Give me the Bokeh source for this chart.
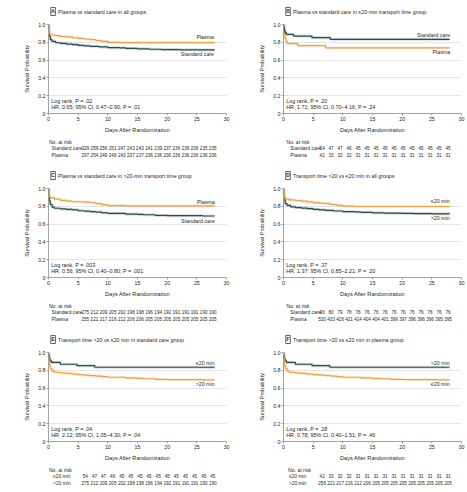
from bokeh.plotting import figure
from bokeh.layouts import column, row
from bokeh.models import Range1d, FixedTicker
from bokeh.core.properties import value
from bokeh.embed import file_html
from bokeh.resources import INLINE

FONT = "Liberation Sans"
ORANGE = "#EFA043"
DARK = "#2F4C4C"
TXT = "#231F20"
AXC = "#8C8C8C"

# ---------------- data ----------------
days_risk = [0, 2, 4, 6, 8, 10, 12, 14, 16, 18, 20, 22, 24, 26, 28]
x_ticks = [0, 5, 10, 15, 20, 25, 30]
y_ticks = [0, 0.2, 0.4, 0.6, 0.8, 1.0]

# Panel A
A_pl_x = [0, 0.05, 0.15, 0.3, 1, 2, 3, 4, 5, 6, 7, 8, 9, 10, 12, 28]
A_pl_y = [1.0, 0.94, 0.90, 0.885, 0.875, 0.865, 0.86, 0.85, 0.843, 0.837, 0.83, 0.82, 0.81, 0.80, 0.797, 0.795]
A_sc_x = [0, 0.05, 0.15, 0.3, 0.6, 1.2, 2, 3, 4, 5, 6, 7, 8.5, 10, 12, 13, 15, 17, 19, 22, 25, 28]
A_sc_y = [1.0, 0.93, 0.87, 0.83, 0.81, 0.795, 0.787, 0.78, 0.775, 0.765, 0.76, 0.755, 0.748, 0.74, 0.737, 0.732, 0.727, 0.722, 0.718, 0.716, 0.714, 0.714]
A_sc_risk = [329, 259, 256, 251, 247, 243, 243, 241, 239, 237, 236, 236, 236, 235, 235]
A_pl_risk = [297, 254, 249, 248, 243, 237, 237, 236, 236, 236, 236, 236, 236, 236, 236]
A_stats = ["Log rank, P = .02", "HR, 0.65; 95% CI, 0.47–0.90; P = .01"]

# Panel B
B_sc_x = [0, 0.05, 0.1, 0.15, 0.2, 0.3, 0.5, 1.7, 4.8, 7.9, 28]
B_sc_y = [1.0, 0.981, 0.963, 0.944, 0.926, 0.907, 0.889, 0.87, 0.852, 0.833, 0.833]
B_pl_x = [0, 0.05, 0.1, 0.2, 0.3, 0.45, 0.6, 2.4, 7.1, 28]
B_pl_y = [1.0, 0.952, 0.905, 0.857, 0.833, 0.81, 0.786, 0.762, 0.738, 0.738]
B_sc_risk = [54, 47, 47, 46, 45, 45, 45, 45, 45, 45, 45, 45, 45, 45, 45]
B_pl_risk = [42, 33, 32, 32, 31, 31, 31, 31, 31, 31, 31, 31, 31, 31, 31]
B_stats = ["Log rank, P = .20", "HR, 1.71; 95% CI, 0.70–4.16; P = .24"]

# Panel C
C_pl_x = [0, 0.05, 0.15, 0.3, 1, 2, 3, 4, 6, 7, 8, 9, 10, 13, 28]
C_pl_y = [1.0, 0.95, 0.91, 0.895, 0.88, 0.867, 0.858, 0.851, 0.847, 0.84, 0.831, 0.818, 0.808, 0.804, 0.804]
C_sc_x = [0, 0.05, 0.15, 0.3, 0.6, 1, 2, 3, 4, 5, 6, 7, 8, 9, 10, 13, 15, 16, 18, 20, 26, 28]
C_sc_y = [1.0, 0.92, 0.86, 0.82, 0.79, 0.778, 0.771, 0.765, 0.76, 0.75, 0.745, 0.74, 0.735, 0.727, 0.72, 0.713, 0.709, 0.705, 0.698, 0.695, 0.691, 0.691]
C_sc_risk = [275, 212, 209, 205, 202, 198, 198, 196, 194, 192, 191, 191, 191, 190, 190]
C_pl_risk = [255, 221, 217, 216, 212, 206, 206, 205, 205, 205, 205, 205, 205, 205, 205]
C_stats = ["Log rank, P = .003", "HR, 0.56; 95% CI, 0.40–0.80; P = .001"]

# Panel D
D_le_x = [0, 0.05, 0.15, 0.3, 1, 2, 3, 4, 5, 6, 7, 8, 9, 10, 12, 28]
D_le_y = [1.0, 0.94, 0.90, 0.88, 0.872, 0.865, 0.858, 0.85, 0.842, 0.836, 0.83, 0.82, 0.81, 0.803, 0.798, 0.796]
D_gt_x = [0, 0.05, 0.15, 0.3, 0.6, 1.2, 2, 3, 4, 5, 6, 7, 8.5, 10, 12, 13, 15, 17, 20, 22, 25, 28]
D_gt_y = [1.0, 0.93, 0.87, 0.83, 0.81, 0.794, 0.786, 0.78, 0.774, 0.765, 0.76, 0.754, 0.747, 0.74, 0.737, 0.732, 0.727, 0.723, 0.72, 0.718, 0.716, 0.715]
D_sc_risk = [96, 80, 79, 78, 76, 76, 76, 76, 76, 76, 76, 76, 76, 76, 76]
D_pl_risk = [530, 433, 426, 421, 414, 404, 404, 401, 399, 397, 396, 396, 396, 395, 395]
D_stats = ["Log rank, P = .37", "HR, 1.37; 95% CI, 0.85–2.21; P = .20"]

# Panel E
E_le_x = [0, 0.05, 0.1, 0.15, 0.2, 0.3, 0.5, 2.0, 4.8, 7.8, 28]
E_le_y = [1.0, 0.981, 0.963, 0.944, 0.926, 0.907, 0.889, 0.868, 0.852, 0.834, 0.834]
E_gt_x = [0, 0.05, 0.15, 0.3, 0.6, 1, 2, 3, 4, 5, 6, 7, 8, 9, 10, 13, 15, 16, 18, 20, 26, 28]
E_gt_y = [1.0, 0.92, 0.86, 0.82, 0.79, 0.778, 0.771, 0.765, 0.758, 0.751, 0.745, 0.74, 0.735, 0.728, 0.722, 0.714, 0.709, 0.705, 0.698, 0.695, 0.692, 0.692]
E_le_risk = [54, 47, 47, 46, 45, 45, 45, 45, 45, 45, 45, 45, 45, 45, 45]
E_gt_risk = [275, 212, 209, 205, 202, 198, 198, 196, 194, 192, 191, 191, 191, 190, 190]
E_stats = ["Log rank, P = .04", "HR, 2.12; 95% CI, 1.05–4.30; P = .04"]

# Panel F
F_gt_x = [0, 0.05, 0.1, 0.15, 0.2, 0.3, 0.5, 2.0, 4.8, 7.8, 28]
F_gt_y = [1.0, 0.981, 0.963, 0.944, 0.926, 0.907, 0.889, 0.868, 0.852, 0.834, 0.834]
F_le_x = [0, 0.05, 0.15, 0.3, 0.6, 1, 2, 3, 4, 5, 6, 7, 8, 9, 10, 13, 15, 16, 18, 20, 26, 28]
F_le_y = [1.0, 0.92, 0.86, 0.82, 0.79, 0.778, 0.771, 0.765, 0.758, 0.751, 0.745, 0.74, 0.735, 0.728, 0.722, 0.714, 0.709, 0.705, 0.698, 0.695, 0.692, 0.692]
F_le_risk = [42, 33, 32, 32, 31, 31, 31, 31, 31, 31, 31, 31, 31, 31, 31]
F_gt_risk = [256, 221, 217, 216, 212, 206, 205, 205, 205, 205, 205, 205, 205, 205, 205]
F_stats = ["Log rank, P = .28", "HR, 0.78; 95% CI, 0.40–1.51; P = .46"]

# ---------------- layout constants ----------------
TH, MT, FH, MB, TBH = 21, 3, 92, 19, 29
LEFT = dict(W=232, BL=48, BR=6, box_x=6, title_x=12.5, indent0=0.5, indent=4)
RIGHT = dict(W=235, BL=51, BR=6, box_x=6, title_x=12.5, indent0=4, indent=9)

specs = [
    dict(letter="A", title="Plasma vs standard care in all groups", geo=LEFT,
         curves=[(A_sc_x, A_sc_y, DARK), (A_pl_x, A_pl_y, ORANGE)],
         labels=[("Plasma", 27.9, 0.855), ("Standard care", 27.9, 0.663)],
         stats=A_stats, rows=[("Standard care", A_sc_risk), ("Plasma", A_pl_risk)]),
    dict(letter="B", title="Plasma vs standard care in ≤20-min transport time group", geo=RIGHT,
         curves=[(B_pl_x, B_pl_y, ORANGE), (B_sc_x, B_sc_y, DARK)],
         labels=[("Standard care", 28.1, 0.887), ("Plasma", 28.1, 0.69)],
         stats=B_stats, rows=[("Standard care", B_sc_risk), ("Plasma", B_pl_risk)]),
    dict(letter="C", title="Plasma vs standard care in >20-min transport time group", geo=LEFT,
         curves=[(C_sc_x, C_sc_y, DARK), (C_pl_x, C_pl_y, ORANGE)],
         labels=[("Plasma", 28.0, 0.848), ("Standard care", 28.0, 0.632)],
         stats=C_stats, rows=[("Standard care", C_sc_risk), ("Plasma", C_pl_risk)]),
    dict(letter="D", title="Transport time >20 vs ≤20 min in all groups", geo=RIGHT,
         curves=[(D_gt_x, D_gt_y, DARK), (D_le_x, D_le_y, ORANGE)],
         labels=[("≤20 min", 28.0, 0.856), (">20 min", 28.0, 0.664)],
         stats=D_stats, rows=[("Standard care", D_sc_risk), ("Plasma", D_pl_risk)]),
    dict(letter="E", title="Transport time >20 vs ≤20 min in standard care group", geo=dict(LEFT, indent=6),
         curves=[(E_le_x, E_le_y, DARK), (E_gt_x, E_gt_y, ORANGE)],
         labels=[("≤20 min", 28.0, 0.88), (">20 min", 28.0, 0.646)],
         stats=E_stats, rows=[("≤20 min", E_le_risk), (">20 min", E_gt_risk)]),
    dict(letter="F", title="Transport time >20 vs ≤20 min in plasma group", geo=dict(RIGHT, indent0=6, indent=7),
         curves=[(F_gt_x, F_gt_y, DARK), (F_le_x, F_le_y, ORANGE)],
         labels=[(">20 min", 28.0, 0.885), ("≤20 min", 28.0, 0.646)],
         stats=F_stats, rows=[("≤20 min", F_le_risk), (">20 min", F_gt_risk)]),
]


def bare_fig(w, h, xr, yr):
    f = figure(width=w, height=h, x_range=xr, y_range=yr,
               x_axis_location=None, y_axis_location=None,
               toolbar_location=None, min_border=0, outline_line_color=None,
               output_backend="svg")
    f.grid.visible = False
    return f


def make_panel(s):
    g = s["geo"]
    W, BL, BR = g["W"], g["BL"], g["BR"]
    FW = W - BL - BR

    # title strip
    t = bare_fig(W, TH, Range1d(0, W), Range1d(0, TH))
    cy = TH - 11
    t.rect(x=[g["box_x"]], y=[cy], width=6, height=8, fill_color=None,
           line_color=TXT, line_width=0.7)
    t.text(x=[g["box_x"]], y=[cy], text=[s["letter"]], text_align="center",
           text_baseline="middle", text_font=value(FONT), text_font_size="4.8px",
           text_font_style="bold", text_color=TXT)
    t.text(x=[g["title_x"]], y=[cy], text=[s["title"]], text_align="left",
           text_baseline="middle", text_font=value(FONT), text_font_size="5.3px",
           text_color=TXT)

    # main KM plot
    m = figure(width=W, height=MT + FH + MB, x_range=Range1d(0, 30), y_range=Range1d(0, 1),
               min_border_left=BL, min_border_right=BR, min_border_top=MT, min_border_bottom=MB,
               toolbar_location=None, outline_line_color=None, output_backend="svg")
    m.xgrid.visible = False
    m.ygrid.grid_line_color = "#DADADA"
    m.ygrid.grid_line_width = 0.7
    m.xaxis.ticker = FixedTicker(ticks=x_ticks)
    m.yaxis.ticker = FixedTicker(ticks=y_ticks)
    m.yaxis.major_label_overrides = {0: "0", 1: "1.0"}
    m.xaxis.axis_label = "Days After Randomization"
    m.yaxis.axis_label = "Survival Probability"
    for ax in (m.xaxis[0], m.yaxis[0]):
        ax.axis_line_color = AXC
        ax.axis_line_width = 0.8
        ax.major_tick_line_color = AXC
        ax.major_tick_line_width = 0.8
        ax.major_tick_in = 0
        ax.major_tick_out = 2
        ax.minor_tick_line_color = None
        ax.major_label_standoff = 1
        ax.major_label_text_font = FONT
        ax.major_label_text_font_size = "5.3px"
        ax.major_label_text_color = TXT
        ax.axis_label_text_font = FONT
        ax.axis_label_text_font_size = "5.6px"
        ax.axis_label_text_font_style = "normal"
        ax.axis_label_text_color = TXT
        ax.axis_label_standoff = 3
    m.yaxis[0].axis_label_standoff = 5
    for x, y, c in s["curves"]:
        m.step(x, y, mode="after", line_color=c, line_width=3, line_alpha=0.2)
        m.step(x, y, mode="after", line_color=c, line_width=1.2)
    for txt, lx, ly in s["labels"]:
        m.text(x=[lx], y=[ly], text=[txt], text_align="right", text_baseline="middle",
               text_font=value(FONT), text_font_size="5.3px", text_color=TXT)
    m.text(x=[0.45, 0.45], y=[0.14, 0.072], text=s["stats"], text_align="left",
           text_baseline="middle", text_font=value(FONT), text_font_size="5.4px",
           text_color=TXT)

    # at-risk table
    per = 30.0 / FW
    x0 = -BL * per
    x1 = (W - BL) * per
    tb = bare_fig(W, TBH, Range1d(x0, x1), Range1d(0, TBH))
    tb.text(x=[x0 + g["indent0"] * per], y=[TBH - 6], text=["No. at risk"],
            text_align="left", text_baseline="middle", text_font=value(FONT),
            text_font_size="5.1px", text_color=TXT)
    for i, (name, vals) in enumerate(s["rows"]):
        ry = TBH - 12.5 - 7 * i
        tb.text(x=[x0 + g["indent"] * per], y=[ry], text=[name], text_align="left",
                text_baseline="middle", text_font=value(FONT), text_font_size="4.9px",
                text_color=TXT)
        tb.text(x=days_risk, y=[ry] * len(days_risk), text=[str(v) for v in vals],
                text_align="center", text_baseline="middle", text_font=value(FONT),
                text_font_size="4.6px", text_color=TXT)

    return column(t, m, tb, spacing=0)


panels = [make_panel(s) for s in specs]
layout = column(row(panels[0], panels[1], spacing=0),
                row(panels[2], panels[3], spacing=0),
                row(panels[4], panels[5], spacing=0), spacing=0)

open("out.html", "w").write(file_html(layout, INLINE))
